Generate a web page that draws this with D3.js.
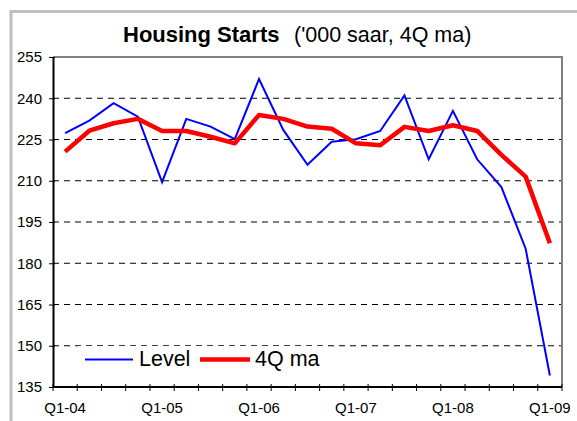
<!DOCTYPE html>
<html>
<head>
<meta charset="utf-8">
<script src="https://cdn.jsdelivr.net/npm/d3@7"></script>
<style>
  html, body { margin: 0; padding: 0; background: #fff; }
  svg { display: block; font-family: "Liberation Sans", Arial, sans-serif; }
</style>
</head>
<body>
<svg id="chart" width="577" height="421"></svg>
<script>
const categories = ["Q1-04","Q2-04","Q3-04","Q4-04","Q1-05","Q2-05","Q3-05","Q4-05",
  "Q1-06","Q2-06","Q3-06","Q4-06","Q1-07","Q2-07","Q3-07","Q4-07",
  "Q1-08","Q2-08","Q3-08","Q4-08","Q1-09"];
const levelValues = [227.3, 231.9, 238.2, 233.3, 209.5, 232.5, 229.7, 225.1, 247.0, 228.5, 215.8,
  224.2, 225.1, 228.1, 241.0, 217.8, 235.4, 217.8, 207.7, 185.3, 139.2];
const ma4Values = [220.6, 228.2, 230.9, 232.5, 228.1, 228.1, 226.0, 223.6, 233.9, 232.5, 229.7,
  228.9, 223.6, 222.9, 229.6, 228.1, 230.2, 228.1, 219.4, 211.5, 187.3];
const xTickLabels = ["Q1-04","Q1-05","Q1-06","Q1-07","Q1-08","Q1-09"];
const yTicks = [135, 150, 165, 180, 195, 210, 225, 240, 255];
const seriesNames = ["Level", "4Q ma"];
const titleBold = "Housing Starts";
const titleRest = "('000 saar, 4Q ma)";

const svg = d3.select("#chart");
const L = 53, R = 562, T = 57, B = 387;

const x = d3.scaleBand().domain(categories).range([L, R]).padding(0);
const y = d3.scaleLinear().domain([135, 255]).range([B, T]);
const cx = c => x(c) + x.bandwidth() / 2;

// outer frame
svg.append("rect").attr("x", 11).attr("y", 11.5).attr("width", 600).attr("height", 450)
  .attr("fill", "#fff").attr("stroke", "#c0c0c0").attr("stroke-width", 3);

// title
svg.append("text").attr("x", 123).attr("y", 42).attr("font-size", 22).attr("font-weight", "bold")
  .attr("fill", "#000").text(titleBold);
svg.append("text").attr("x", 294).attr("y", 42).attr("font-size", 21.5)
  .attr("fill", "#000").text(titleRest);

// gridlines
svg.append("g").selectAll("line").data(yTicks.filter(v => v > 135 && v < 255)).join("line")
  .attr("x1", L).attr("x2", R).attr("y1", d => y(d)).attr("y2", d => y(d))
  .attr("stroke", "#000").attr("stroke-width", 1).attr("stroke-dasharray", "6,5");

// plot border (top/right gray)
svg.append("path").attr("d", `M${L},${T}H${R}V${B}`).attr("fill", "none")
  .attr("stroke", "#808080").attr("stroke-width", 2);

// legend background
svg.append("rect").attr("x", 78).attr("y", 346).attr("width", 247).attr("height", 26).attr("fill", "#fff");

// lines
const line = d3.line().x((d, i) => cx(categories[i])).y(d => y(d));
svg.append("path").datum(levelValues).attr("d", line).attr("fill", "none")
  .attr("stroke", "#0000ff").attr("stroke-width", 2).attr("stroke-linejoin", "miter");
svg.append("path").datum(ma4Values).attr("d", line).attr("fill", "none")
  .attr("stroke", "#ff0000").attr("stroke-width", 4.5).attr("stroke-linejoin", "round");

// y axis
const yAxis = d3.axisLeft(y).tickValues(yTicks).tickSize(4).tickSizeOuter(0).tickPadding(7);
const gy = svg.append("g").attr("transform", `translate(${L},0)`).call(yAxis);
gy.select(".domain").attr("stroke", "#000").attr("stroke-width", 2);
gy.selectAll(".tick line").attr("stroke", "#000").attr("x2", 2).attr("x1", -4);
gy.selectAll(".tick text").attr("font-size", 15).attr("font-family", "Liberation Sans, Arial, sans-serif")
  .attr("fill", "#000").attr("dy", "0.33em");

// x axis
const boundaries = categories.map(c => x(c)).concat([R]);
const gx = svg.append("g");
gx.append("line").attr("x1", L).attr("x2", R).attr("y1", B).attr("y2", B)
  .attr("stroke", "#000").attr("stroke-width", 2);
gx.selectAll("line.tk").data(boundaries).join("line").attr("class", "tk")
  .attr("x1", d => d).attr("x2", d => d).attr("y1", B - 3).attr("y2", B + 4)
  .attr("stroke", "#000").attr("stroke-width", 1);
gx.selectAll("text").data(xTickLabels).join("text")
  .attr("x", d => cx(d)).attr("y", 413).attr("text-anchor", "middle")
  .attr("font-size", 15).attr("fill", "#000").text(d => d);

// legend
const lg = svg.append("g");
lg.append("line").attr("x1", 85).attr("x2", 133).attr("y1", 359.5).attr("y2", 359.5)
  .attr("stroke", "#0000ff").attr("stroke-width", 2);
lg.append("text").attr("x", 139).attr("y", 366).attr("font-size", 21.5).attr("fill", "#000").text(seriesNames[0]);
lg.append("line").attr("x1", 200).attr("x2", 250).attr("y1", 359.5).attr("y2", 359.5)
  .attr("stroke", "#ff0000").attr("stroke-width", 4.5);
lg.append("text").attr("x", 255).attr("y", 366).attr("font-size", 21.5).attr("fill", "#000").text(seriesNames[1]);
</script>
</body>
</html>
